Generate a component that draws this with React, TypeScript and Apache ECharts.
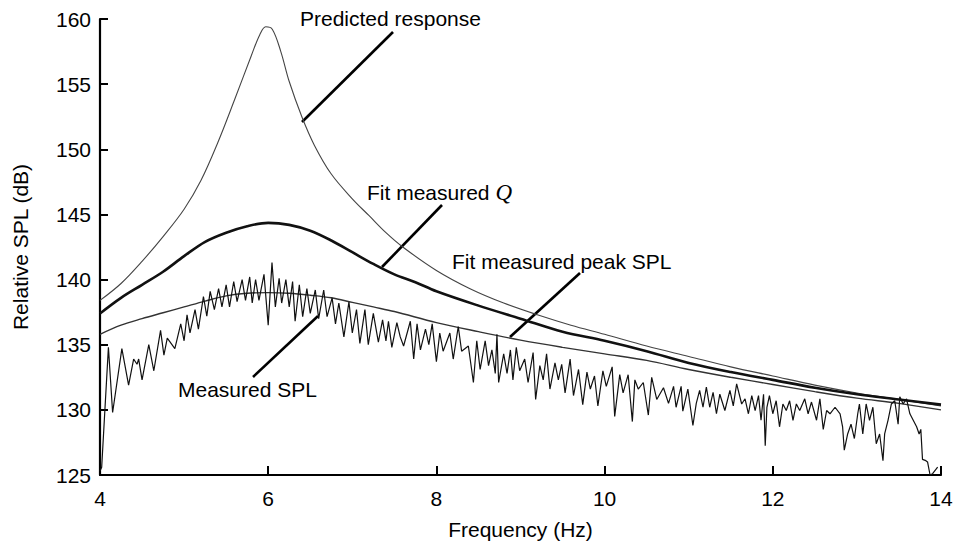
import React, { useEffect, useRef } from "react";
import * as echarts from "echarts";

const FONT = '"Liberation Sans", Arial, Helvetica, sans-serif';

// Axis ranges / ticks
const xMin = 4;
const xMax = 14;
const xStep = 2;
const yMin = 125;
const yMax = 160;
const yStep = 5;

// [frequency Hz, relative SPL dB]
const predictedResponse: [number, number][] = [
  [4.0, 138.4], [4.25, 139.7], [4.5, 141.4], [4.75, 143.3], [5.0, 145.4],
  [5.2, 147.6], [5.4, 150.5], [5.6, 153.8], [5.8, 157.2], [5.9, 158.8],
  [5.97, 159.4], [6.05, 159.2], [6.15, 157.5], [6.25, 155.2], [6.4, 152.5],
  [6.55, 150.3], [6.75, 148.1], [7.0, 146.2], [7.2, 144.9], [7.4, 143.6],
  [7.6, 142.5], [8.0, 140.7], [8.4, 139.3], [8.8, 138.2], [9.2, 137.3],
  [9.6, 136.5], [10.0, 135.8], [10.5, 134.9], [11.0, 134.1], [11.5, 133.3],
  [12.0, 132.6], [12.5, 131.9], [13.0, 131.3], [13.5, 130.8], [14.0, 130.3],
];

const fitMeasuredQ: [number, number][] = [
  [4.0, 137.4], [4.25, 138.6], [4.5, 139.6], [4.75, 140.6], [5.0, 141.8],
  [5.25, 142.9], [5.5, 143.6], [5.75, 144.1], [6.0, 144.35], [6.25, 144.2],
  [6.5, 143.75], [6.75, 143.0], [7.0, 142.1], [7.25, 141.2], [7.5, 140.4],
  [7.75, 139.8], [8.0, 139.1], [8.5, 138.0], [9.0, 137.0], [9.5, 136.0],
  [10.0, 135.3], [10.5, 134.5], [11.0, 133.6], [11.5, 132.9], [12.0, 132.3],
  [12.5, 131.7], [13.0, 131.2], [13.5, 130.8], [14.0, 130.4],
];

const fitMeasuredPeakSPL: [number, number][] = [
  [4.0, 135.8], [4.25, 136.5], [4.5, 137.0], [4.75, 137.45], [5.0, 137.9],
  [5.25, 138.35], [5.5, 138.75], [5.75, 138.95], [6.0, 139.0], [6.25, 138.95],
  [6.5, 138.8], [6.75, 138.6], [7.0, 138.25], [7.25, 137.9], [7.5, 137.55],
  [8.0, 136.7], [8.5, 136.0], [9.0, 135.35], [9.5, 134.8], [10.0, 134.3],
  [10.5, 133.8], [11.0, 133.1], [11.5, 132.5], [12.0, 131.95], [12.5, 131.4],
  [13.0, 130.9], [13.5, 130.5], [14.0, 130.0],
];

const measuredSPL: [number, number][] = [
  [4.0, 125.3], [4.02, 125.6], [4.1, 134.8], [4.15, 129.8], [4.26, 134.7],
  [4.34, 131.9], [4.4, 133.9], [4.44, 133.5], [4.46, 133.9], [4.5, 132.3],
  [4.58, 135.0], [4.64, 133.0], [4.72, 136.1], [4.76, 134.2], [4.8, 135.5],
  [4.89, 134.7], [4.96, 136.6], [5.0, 135.3], [5.035, 137.3], [5.07, 135.9],
  [5.13, 137.7], [5.17, 136.2], [5.23, 138.7], [5.27, 137.2], [5.31, 139.1],
  [5.36, 137.7], [5.41, 139.3], [5.45, 137.9], [5.5, 139.6], [5.54, 137.9],
  [5.59, 139.85], [5.63, 138.3], [5.69, 140.0], [5.73, 138.4], [5.78, 140.2],
  [5.81, 138.2], [5.85, 140.0], [5.89, 138.4], [5.95, 140.4], [6.0, 136.5],
  [6.045, 141.3], [6.085, 137.9], [6.13, 140.1], [6.16, 138.2], [6.21, 140.0],
  [6.25, 137.9], [6.29, 139.85], [6.32, 136.8], [6.37, 139.6], [6.41, 137.15],
  [6.46, 139.3], [6.5, 137.4], [6.56, 139.2], [6.6, 137.0], [6.66, 139.2],
  [6.7, 137.15], [6.76, 138.6], [6.8, 136.6], [6.84, 138.2], [6.9, 135.6],
  [6.96, 138.3], [7.0, 135.9], [7.05, 137.7], [7.09, 135.1], [7.15, 137.7],
  [7.19, 135.0], [7.25, 137.4], [7.31, 135.2], [7.36, 136.9], [7.4, 135.3],
  [7.43, 136.8], [7.47, 134.8], [7.53, 136.7], [7.57, 135.6], [7.61, 134.9],
  [7.69, 136.8], [7.73, 133.9], [7.77, 136.6], [7.81, 134.6], [7.87, 136.2],
  [7.91, 135.0], [7.95, 136.6], [8.0, 133.7], [8.04, 135.9], [8.08, 134.5],
  [8.16, 135.9], [8.2, 133.9], [8.26, 136.4], [8.3, 134.5], [8.38, 134.9],
  [8.44, 132.1], [8.48, 135.3], [8.52, 133.1], [8.58, 135.3], [8.62, 133.4],
  [8.66, 134.6], [8.7, 132.8], [8.72, 135.8], [8.74, 132.1], [8.8, 134.3],
  [8.84, 132.8], [8.88, 134.6], [8.91, 132.3], [8.95, 134.8], [8.99, 133.0],
  [9.05, 133.9], [9.09, 132.1], [9.15, 134.4], [9.18, 130.8], [9.23, 133.4],
  [9.27, 132.3], [9.31, 134.3], [9.35, 131.6], [9.41, 133.6], [9.45, 132.3],
  [9.49, 133.5], [9.53, 131.3], [9.59, 133.9], [9.63, 131.1], [9.69, 133.1],
  [9.74, 130.4], [9.79, 132.9], [9.83, 131.6], [9.88, 132.6], [9.92, 130.3],
  [9.98, 133.0], [10.02, 131.8], [10.09, 133.3], [10.12, 129.5], [10.18, 132.7],
  [10.22, 131.3], [10.28, 132.7], [10.33, 129.1], [10.36, 132.3], [10.4, 131.6],
  [10.46, 132.1], [10.52, 129.6], [10.56, 132.5], [10.62, 130.8], [10.7, 131.7],
  [10.76, 130.5], [10.82, 131.8], [10.85, 130.2], [10.91, 131.8], [10.93, 129.9],
  [10.99, 131.6], [11.05, 128.8], [11.09, 130.5], [11.13, 131.5], [11.17, 130.2],
  [11.21, 131.75], [11.25, 130.2], [11.29, 131.35], [11.33, 129.7], [11.37, 131.2],
  [11.43, 129.95], [11.49, 131.5], [11.53, 130.3], [11.57, 132.0], [11.63, 130.45],
  [11.67, 130.85], [11.71, 129.7], [11.75, 131.1], [11.79, 129.95], [11.83, 131.1],
  [11.86, 129.2], [11.89, 131.2], [11.91, 127.25], [11.93, 130.2], [11.96, 131.1],
  [12.0, 129.7], [12.04, 130.7], [12.08, 128.7], [12.12, 130.45], [12.16, 129.95],
  [12.2, 130.7], [12.24, 129.2], [12.28, 130.45], [12.32, 129.95], [12.38, 130.85],
  [12.42, 129.7], [12.46, 130.6], [12.52, 129.2], [12.56, 130.85], [12.6, 128.5],
  [12.64, 129.95], [12.68, 129.7], [12.74, 130.2], [12.8, 129.7], [12.83, 128.7],
  [12.85, 126.9], [12.89, 128.15], [12.93, 128.9], [12.97, 127.8], [13.01, 129.7],
  [13.03, 130.45], [13.07, 128.15], [13.11, 130.45], [13.15, 129.2], [13.19, 130.2],
  [13.23, 127.4], [13.27, 128.15], [13.31, 126.1], [13.33, 128.15], [13.37, 129.2],
  [13.41, 130.45], [13.45, 130.7], [13.49, 128.9], [13.51, 131.0], [13.55, 130.45],
  [13.59, 130.85], [13.63, 129.7], [13.67, 129.2], [13.71, 128.7], [13.74, 128.15],
  [13.76, 128.5], [13.78, 126.2], [13.82, 126.1], [13.84, 126.0], [13.87, 125.0],
  [13.9, 125.1], [13.96, 125.6],
];

// Annotation texts
const labelPredicted = "Predicted response";
const labelFitQ = "Fit measured {q|Q}";
const labelFitPeak = "Fit measured peak SPL";
const labelMeasured = "Measured SPL";

export default function App() {
  const ref = useRef<HTMLDivElement>(null);

  useEffect(() => {
    if (!ref.current) return;
    const chart = echarts.init(ref.current, undefined, { renderer: "svg" });

    const textStyle = { fontFamily: FONT, fontSize: 21, fill: "#000" };
    const leader = { stroke: "#000", lineWidth: 2.6 };

    chart.setOption({
      animation: false,
      backgroundColor: "#fff",
      grid: { left: 100, right: 18, top: 19, bottom: 71, containLabel: false },
      xAxis: {
        type: "value",
        min: xMin,
        max: xMax,
        interval: xStep,
        name: "Frequency (Hz)",
        nameLocation: "middle",
        nameGap: 44,
        nameTextStyle: { fontFamily: FONT, fontSize: 21, color: "#000" },
        axisLine: { show: true, onZero: false, lineStyle: { color: "#000", width: 2.2 } },
        axisTick: { show: true, inside: true, length: 9, lineStyle: { color: "#000", width: 2 } },
        axisLabel: { color: "#000", fontFamily: FONT, fontSize: 21, margin: 13 },
        splitLine: { show: false },
      },
      yAxis: {
        type: "value",
        min: yMin,
        max: yMax,
        interval: yStep,
        name: "Relative SPL (dB)",
        nameLocation: "middle",
        nameGap: 69,
        nameTextStyle: { fontFamily: FONT, fontSize: 21, color: "#000" },
        axisLine: { show: true, onZero: false, lineStyle: { color: "#000", width: 2.2 } },
        axisTick: { show: true, inside: true, length: 8, lineStyle: { color: "#000", width: 2 } },
        axisLabel: { color: "#000", fontFamily: FONT, fontSize: 21, margin: 9 },
        splitLine: { show: false },
      },
      series: [
        {
          name: "Predicted response",
          type: "line",
          data: predictedResponse,
          showSymbol: false,
          smooth: 0.35,
          lineStyle: { color: "#444", width: 1.1 },
          z: 2,
        },
        {
          name: "Fit measured Q",
          type: "line",
          data: fitMeasuredQ,
          showSymbol: false,
          smooth: 0.35,
          lineStyle: { color: "#111", width: 2.6 },
          z: 3,
        },
        {
          name: "Fit measured peak SPL",
          type: "line",
          data: fitMeasuredPeakSPL,
          showSymbol: false,
          smooth: 0.35,
          lineStyle: { color: "#333", width: 1.4 },
          z: 2,
        },
        {
          name: "Measured SPL",
          type: "line",
          data: measuredSPL,
          showSymbol: false,
          lineStyle: { color: "#111", width: 1.2 },
          z: 4,
        },
      ],
      graphic: [
        {
          type: "text",
          x: 300,
          y: 18,
          style: { ...textStyle, text: labelPredicted, align: "left", verticalAlign: "middle" },
        },
        { type: "line", shape: { x1: 393, y1: 32, x2: 302, y2: 122 }, style: leader },
        {
          type: "text",
          x: 367,
          y: 192,
          style: {
            ...textStyle,
            text: labelFitQ,
            align: "left",
            verticalAlign: "middle",
            rich: {
              q: {
                fontFamily: '"Liberation Serif", "Times New Roman", serif',
                fontStyle: "italic",
                fontSize: 23,
                fill: "#000",
              },
            },
          },
        },
        { type: "line", shape: { x1: 442, y1: 205, x2: 382, y2: 267 }, style: leader },
        {
          type: "text",
          x: 452,
          y: 261,
          style: { ...textStyle, text: labelFitPeak, align: "left", verticalAlign: "middle" },
        },
        { type: "line", shape: { x1: 580, y1: 273, x2: 510, y2: 337 }, style: leader },
        {
          type: "text",
          x: 178,
          y: 389,
          style: { ...textStyle, text: labelMeasured, align: "left", verticalAlign: "middle" },
        },
        { type: "line", shape: { x1: 253, y1: 377, x2: 318, y2: 316 }, style: leader },
      ],
    });

    return () => chart.dispose();
  }, []);

  return (
    <div
      ref={ref}
      style={{ position: "fixed", left: 0, top: 0, width: 959, height: 546, background: "#fff" }}
    />
  );
}
